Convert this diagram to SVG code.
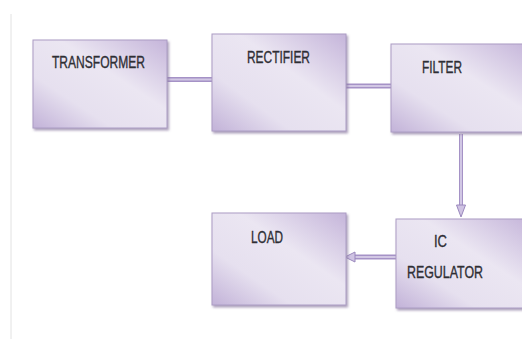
<svg xmlns="http://www.w3.org/2000/svg" width="522" height="339" viewBox="0 0 522 339">
  <defs>
    <linearGradient id="boxFill" x1="0" y1="1" x2="1" y2="0">
      <stop offset="0" stop-color="#c2b2d8"/>
      <stop offset="0.3" stop-color="#e6e0ef"/>
      <stop offset="0.6" stop-color="#ebe6f2"/>
      <stop offset="1" stop-color="#c5b5da"/>
    </linearGradient>
    <filter id="shadow" x="-10%" y="-10%" width="125%" height="125%">
      <feDropShadow dx="1.5" dy="2" stdDeviation="1" flood-color="#8a7aa0" flood-opacity="0.7"/>
    </filter>
  </defs>
  <style>
    .box { fill: url(#boxFill); stroke: #ab9cc4; stroke-width: 1; filter: url(#shadow); }
    .lbl { font-family: "Liberation Sans", Arial, sans-serif; font-size: 17px; fill: #2e2e34; stroke: #2e2e34; stroke-width: 0.35; }
    .link { stroke: #a592c6; stroke-width: 5; fill: none; }
    .linkIn { stroke: #d2c7e4; stroke-width: 2; fill: none; }
    .vlink { stroke: #a592c6; stroke-width: 4; fill: none; }
    .vlinkIn { stroke: #e0d8ee; stroke-width: 1.5; fill: none; }
  </style>
  <rect width="522" height="339" fill="#ffffff"/>
  <line x1="11" y1="14" x2="11" y2="339" stroke="#e2e2e2" stroke-width="1"/>

  <g id="connectors">
    <line class="link" x1="166" y1="79.5" x2="214" y2="79.5"/>
    <line class="linkIn" x1="166" y1="79.5" x2="214" y2="79.5"/>
    <line class="link" x1="345" y1="86" x2="393" y2="86"/>
    <line class="linkIn" x1="345" y1="86" x2="393" y2="86"/>
    <line class="vlink" x1="461" y1="134" x2="461" y2="208"/>
    <line class="vlinkIn" x1="461" y1="134" x2="461" y2="208"/>
    <path d="M456.5,205 L461,217 L465.5,205 Z" fill="#cfc3e3" stroke="#9a88bd" stroke-width="1"/>
    <line class="link" x1="396" y1="257" x2="353" y2="257"/>
    <line class="linkIn" x1="396" y1="257" x2="353" y2="257"/>
    <path d="M355,252 L345,257 L355,262 Z" fill="#cfc3e3" stroke="#9a88bd" stroke-width="1"/>
  </g>

  <g id="transformer">
    <rect class="box" x="33" y="40" width="134" height="88"/>
    <text class="lbl" x="52" y="68" textLength="93" lengthAdjust="spacingAndGlyphs">TRANSFORMER</text>
  </g>
  <g id="rectifier">
    <rect class="box" x="212" y="34" width="134" height="97"/>
    <text class="lbl" x="247" y="63" textLength="63" lengthAdjust="spacingAndGlyphs">RECTIFIER</text>
  </g>
  <g id="filter">
    <rect class="box" x="391" y="44" width="140" height="88"/>
    <text class="lbl" x="422" y="73" textLength="40" lengthAdjust="spacingAndGlyphs">FILTER</text>
  </g>
  <g id="ic-regulator">
    <rect class="box" x="396" y="219" width="135" height="89"/>
    <text class="lbl" x="434" y="247" textLength="13" lengthAdjust="spacingAndGlyphs">IC</text>
    <text class="lbl" x="407" y="278" textLength="76" lengthAdjust="spacingAndGlyphs">REGULATOR</text>
  </g>
  <g id="load">
    <rect class="box" x="212" y="213" width="134" height="92"/>
    <text class="lbl" x="251" y="243" textLength="32" lengthAdjust="spacingAndGlyphs">LOAD</text>
  </g>
</svg>
